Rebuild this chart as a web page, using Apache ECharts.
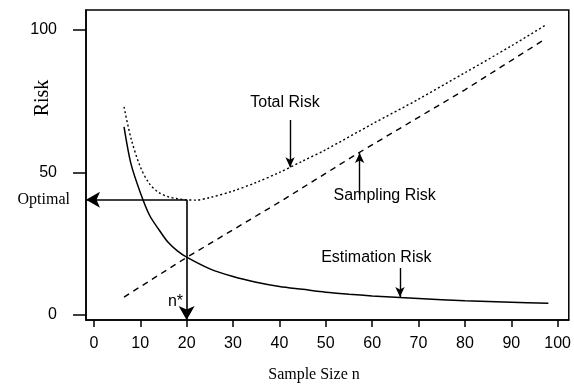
<!DOCTYPE html>
<html>
<head>
<meta charset="utf-8">
<script src="https://cdn.jsdelivr.net/npm/echarts@6/dist/echarts.min.js"></script>
<style>
  html, body { margin: 0; padding: 0; background: #fff; }
  #chart { width: 574px; height: 385px; }
</style>
</head>
<body>
<div id="chart"></div>
<script>
  // values
  const xTicks = [0, 10, 20, 30, 40, 50, 60, 70, 80, 90, 100];
  const yTicks = [0, 50, 100];

  const estN = [6.5, 8, 10, 12, 14, 16, 18, 20, 25, 30, 35, 40, 45, 50, 55, 60, 66, 70, 80, 90, 98];
  const estimationRisk = [66, 53, 43, 35, 30, 25.5, 22.5, 20.3, 16.2, 13.5, 11.5, 10, 9, 8, 7.3, 6.7, 6.1, 5.8, 5, 4.5, 4.1];

  const sampN = [6.5, 20, 40, 57, 80, 97.5];
  const samplingRisk = [6.3, 20.2, 39.6, 56.8, 79, 97];

  const totN = [6.5, 8, 10, 12, 14, 16, 18, 20, 22, 25, 30, 35, 40, 45, 50, 60, 70, 80, 90, 97.5];
  const totalRisk = [73, 62, 52, 46, 43, 41.5, 40.8, 40.4, 40.3, 41.2, 43.5, 46.5, 50, 54, 58, 67, 75.7, 85, 94.4, 101.8];

  const optimalN = 20;
  const optimalRisk = 40.4;

  // annotation arrows: [x, yFrom, yTo]
  const arrowX = [42.3, 57.3, 66];
  const arrowFrom = [68.4, 42.1, 16.5];
  const arrowTo = [51.8, 56.8, 6.3];

  const noteText = ['Total Risk', 'Sampling Risk', 'Estimation Risk', 'n*'];
  const noteX = [41.2, 62.7, 60.9, 17.6];
  const noteY = [74.4, 41.8, 20, 4.6];

  const xMin = -1.7, xMax = 102.4, yMin = -1.75, yMax = 107;

  const sans = 'Liberation Sans, Arial, sans-serif';
  const serif = 'Liberation Serif, Times New Roman, serif';

  const zip = (a, b) => a.map((v, i) => [v, b[i]]);

  const chart = echarts.init(document.getElementById('chart'));

  const arrowLines = arrowX.map((x, i) => [
    { coord: [x, arrowFrom[i]] },
    { coord: [x, arrowTo[i]] }
  ]);

  chart.setOption({
    animation: false,
    backgroundColor: '#fff',
    grid: {
      left: 86, right: 4, top: 10, bottom: 65,
      show: true, borderColor: '#000', borderWidth: 1.5
    },
    xAxis: {
      type: 'value', min: xMin, max: xMax,
      splitLine: { show: false },
      axisLine: { show: true, onZero: false, lineStyle: { color: '#000', width: 1.5 } },
      axisTick: { show: true, length: 7, customValues: xTicks, lineStyle: { color: '#000', width: 1.5 } },
      axisLabel: { customValues: xTicks, margin: 16, color: '#000', fontFamily: sans, fontSize: 16 }
    },
    yAxis: {
      type: 'value', min: yMin, max: yMax,
      splitLine: { show: false },
      axisLine: { show: true, onZero: false, lineStyle: { color: '#000', width: 1.5 } },
      axisTick: { show: true, length: 13, customValues: yTicks, lineStyle: { color: '#000', width: 1.5 } },
      axisLabel: { customValues: yTicks, margin: 29, color: '#000', fontFamily: sans, fontSize: 16 }
    },
    graphic: [
      {
        type: 'text', x: 43, y: 98, rotation: Math.PI / 2,
        style: { text: 'Risk', font: '20px ' + serif, fill: '#000', textAlign: 'center', textVerticalAlign: 'middle' }
      },
      {
        type: 'text', x: 314, y: 375,
        style: { text: 'Sample Size n', font: '16px ' + serif, fill: '#000', textAlign: 'center', textVerticalAlign: 'middle' }
      }
    ],
    series: [
      {
        name: 'Estimation Risk', type: 'line', smooth: 0.3, symbol: 'none',
        data: zip(estN, estimationRisk),
        lineStyle: { color: '#000', width: 1.5 }
      },
      {
        name: 'Sampling Risk', type: 'line', symbol: 'none',
        data: zip(sampN, samplingRisk),
        lineStyle: { color: '#000', width: 1.4, type: [6, 5] }
      },
      {
        name: 'Total Risk', type: 'line', smooth: 0.3, symbol: 'none',
        data: zip(totN, totalRisk),
        lineStyle: { color: '#000', width: 1.4, type: [2, 2.5] }
      },
      {
        name: 'optimum', type: 'line', data: [], symbol: 'none',
        markLine: {
          silent: true, symbol: ['none', 'arrow'], symbolSize: [12, 14],
          label: { show: false },
          lineStyle: { color: '#000', width: 1.6, type: 'solid' },
          data: [
            [{ coord: [optimalN, optimalRisk] }, { coord: [xMin, optimalRisk] }],
            [{ coord: [optimalN, optimalRisk] }, { coord: [optimalN, yMin] }]
          ]
        }
      },
      {
        name: 'pointers', type: 'line', data: [], symbol: 'none',
        markLine: {
          silent: true, symbol: ['none', 'arrow'], symbolSize: [7, 10],
          label: { show: false },
          lineStyle: { color: '#000', width: 1.4, type: 'solid' },
          data: arrowLines
        }
      },
      {
        name: 'notes', type: 'scatter', symbolSize: 0, clip: false, silent: true,
        itemStyle: { opacity: 1 },
        data: noteX.map((x, i) => ({ value: [x, noteY[i]], name: noteText[i] })).concat([
          {
            value: [xMin, optimalRisk], name: 'Optimal',
            label: { position: 'left', distance: 16, fontFamily: serif, fontSize: 16 }
          }
        ]),
        label: {
          show: true, position: 'inside', formatter: p => p.name,
          color: '#000', fontFamily: sans, fontSize: 16
        }
      }
    ]
  });
</script>
</body>
</html>
